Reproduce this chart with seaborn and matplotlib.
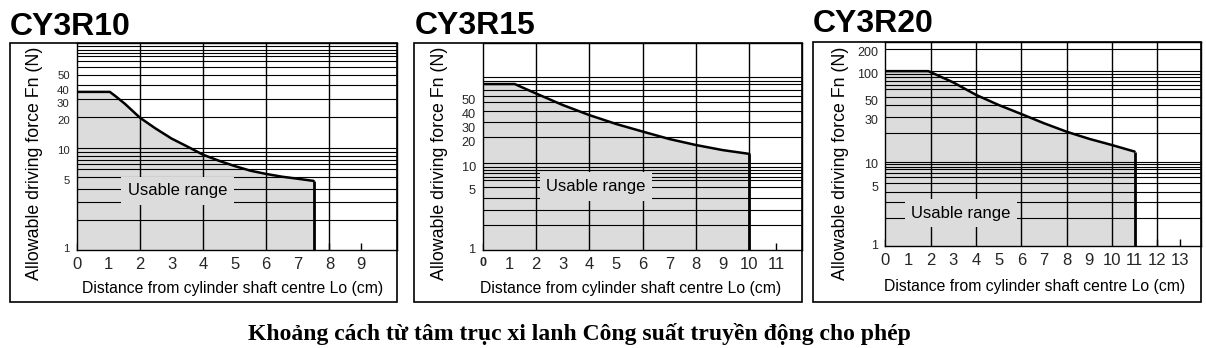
import matplotlib
matplotlib.use("Agg")
import matplotlib.pyplot as plt
import matplotlib.ticker as mticker
import seaborn as sns
import pandas as pd
from matplotlib.patches import Rectangle

# ---------------- data ----------------
titles = ["CY3R10", "CY3R15", "CY3R20"]

cy3r10_x = [0, 1.05, 1.25, 1.53, 2, 2.48, 3, 3.53, 4, 4.5, 5, 5.5, 6, 6.5, 7, 7.5]
cy3r10_f = [38, 38, 34, 28.8, 21, 16.5, 13.0, 10.7, 8.95, 7.8, 6.9, 6.2, 5.75, 5.4, 5.15, 4.9]

cy3r15_x = [0, 1.2, 2, 3, 4, 5, 6, 7, 8, 9, 10]
cy3r15_f = [85, 85, 66, 48.5, 37, 29.2, 23.8, 19.5, 16.6, 14.5, 13.1]

cy3r20_x = [0, 1.9, 3, 4, 5, 6, 7, 8, 9, 10, 11]
cy3r20_f = [114, 114, 84, 60, 45.6, 35.7, 27.8, 22.1, 18.2, 15.4, 12.9]

xticks_10 = list(range(0, 10))
xticks_15 = list(range(0, 12))
xticks_20 = list(range(0, 14))

# y tick labels and where they sit on the (scanned, slightly distorted) log axis
ylabels_10 = ["1", "5", "10", "20", "30", "40", "50"]
ylabpos_10 = [1.05, 5.0, 10, 20, 29.5, 40, 56]
ylabels_15 = ["1", "5", "10", "20", "30", "40", "50"]
ylabpos_15 = [1.05, 5.0, 9.3, 18.2, 26.7, 38.8, 55.5]
ylabels_20 = ["1", "5", "10", "30", "50", "100", "200"]
ylabpos_20 = [1.05, 5.0, 9.4, 31, 52, 105.7, 193]

# horizontal grid lines as drawn in the picture
ygrid_10 = [2.0, 3.04, 4.1, 5.4, 6.5, 7.2, 7.9, 8.7, 9.6, 10.4,
            21.5, 32.6, 44.7, 56, 68, 78, 86, 94, 100, 108]
ygrid_15 = [1.95, 2.92, 4.0, 5.45, 6.5, 7.1, 7.8, 8.5, 9.3, 10.2,
            20.4, 31, 41.7, 53, 62, 72.5, 85, 93, 102]
ygrid_20 = [2.12, 3.32, 4.35, 5.47, 6.54, 7.3, 8.0, 8.57, 9.2, 9.8,
            21.2, 33.2, 45.6, 57, 69.7, 78.6, 88, 96.5, 105.7, 115, 206]

xlabel = "Distance from cylinder shaft centre Lo (cm)"
ylabel = "Allowable driving force Fn (N)"
region_label = "Usable range"
caption = "Khoảng cách từ tâm trục xi lanh Công suất truyền động cho phép"

# ---------------- layout (pixels) ----------------
W, H = 1206, 348
sns.set_theme(style="white")
plt.rcParams["font.family"] = ["Liberation Sans", "DejaVu Sans"]

fig = plt.figure(figsize=(W / 100, H / 100), dpi=100)
fig.patch.set_facecolor("white")

panels = [
    dict(x=cy3r10_x, f=cy3r10_f, xt=xticks_10, yl=ylabels_10, yp=ylabpos_10, yg=ygrid_10,
         ax=(76.7, 43, 396.7, 250), frame=(10, 43, 396.7, 302),
         xlim=10.13, ytop=117, label_pos=(3.2, 3.9), yfs=8.2,
         ylab=(-0.132, 0.42), xlab=(0.488, -0.188), title=(10, 35)),
    dict(x=cy3r15_x, f=cy3r15_f, xt=xticks_15, yl=ylabels_15, yp=ylabpos_15, yg=ygrid_15,
         ax=(482.7, 43.3, 801.7, 250), frame=(414.3, 43.3, 801.7, 302),
         xlim=11.96, ytop=253, label_pos=(4.25, 5.45), yfs=9.2,
         ylab=(-0.135, 0.418), xlab=(0.465, -0.184), title=(415, 34)),
    dict(x=cy3r20_x, f=cy3r20_f, xt=xticks_20, yl=ylabels_20, yp=ylabpos_20, yg=ygrid_20,
         ax=(885.3, 41.7, 1201, 246), frame=(813.3, 41.7, 1201, 302),
         xlim=13.93, ytop=253, label_pos=(3.34, 2.44), yfs=9,
         ylab=(-0.142, 0.405), xlab=(0.474, -0.196), title=(813, 32)),
]

fill_col = "#dcdcdc"

for i, p in enumerate(panels):
    l, t, r, b = p["ax"]
    ax = fig.add_axes([l / W, (H - b) / H, (r - l) / W, (b - t) / H])
    ax.set_facecolor("white")
    ax.set_yscale("log")
    ax.set_xlim(0, p["xlim"])
    ax.set_ylim(1, p["ytop"])

    df = pd.DataFrame({"x": p["x"], "f": p["f"]})
    ax.fill_between(df["x"], 1, df["f"], color=fill_col, lw=0, zorder=1)

    # grid
    for g in p["yg"]:
        ax.axhline(g, color="black", lw=0.8, zorder=2)
    for xv in p["xt"]:
        if xv % 2 == 0 and xv > 0:
            ax.axvline(xv, color="black", lw=1.0, zorder=2)

    sns.lineplot(data=df, x="x", y="f", ax=ax, color="black", lw=1.8,
                 zorder=5, sort=False, estimator=None)
    ax.vlines(df["x"].iloc[-1], 1, df["f"].iloc[-1], color="black", lw=2.0, zorder=5)

    ax.text(p["label_pos"][0], p["label_pos"][1], region_label, fontsize=12,
            ha="center", va="center", color="black", zorder=4,
            bbox=dict(boxstyle="square,pad=0.4", fc=fill_col, ec="none"))

    ax.set_xticks(p["xt"])
    ax.set_xticklabels([str(v) for v in p["xt"]], fontsize=12)
    ax.set_yticks(p["yp"])
    ax.set_yticklabels(p["yl"], fontsize=p["yfs"])
    ax.yaxis.set_minor_locator(mticker.NullLocator())
    ax.tick_params(axis="x", direction="in", length=5, width=1, color="black",
                   pad=5, bottom=True)
    ax.tick_params(axis="y", length=0, pad=5, left=True)
    if i == 1:
        ax.get_xticklabels()[0].set_fontsize(9)
        ax.get_xticklabels()[0].set_fontweight("bold")

    for s in ax.spines.values():
        s.set_color("black")
        s.set_linewidth(1.0)
        s.set_zorder(6)

    ax.set_xlabel(xlabel, fontsize=11.3, color="black")
    ax.xaxis.set_label_coords(*p["xlab"])
    ax.xaxis.label.set_va("center")
    ax.set_ylabel(ylabel, fontsize=12.8, color="black", va="center")
    ax.yaxis.set_label_coords(*p["ylab"])

    fl, ft, fr, fb = p["frame"]
    fig.patches.append(Rectangle((fl / W, (H - fb) / H), (fr - fl) / W, (fb - ft) / H,
                                 transform=fig.transFigure, fill=False,
                                 ec="black", lw=1.2, zorder=0))

    fig.text(p["title"][0] / W, (H - p["title"][1]) / H, titles[i],
             fontsize=23, fontweight="bold", ha="left", va="baseline",
             color="black")

fig.text(579.5 / W, (H - 340) / H, caption, fontsize=17, fontweight="bold",
         ha="center", va="baseline", color="black",
         family=["Liberation Serif", "DejaVu Serif"])

fig.savefig("out.png", dpi=100, facecolor="white")
